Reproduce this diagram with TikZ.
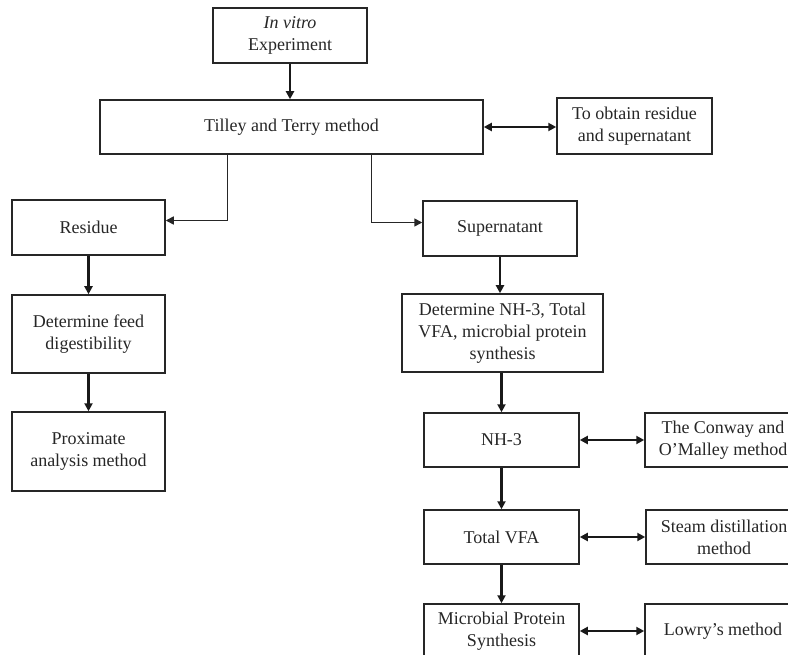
\documentclass[tikz,border=0pt]{standalone}
\usepackage{fontspec}
\setmainfont{Liberation Serif}
\usetikzlibrary{arrows.meta,calc}
\begin{document}
\begin{tikzpicture}[x=1pt,y=1pt,
  box/.style={draw=black!85, line width=1.5pt, align=center, inner sep=2pt,
    font=\fontsize{18}{22}\selectfont, text=black!85},
  arr/.style={line width=2.2pt, draw=black!90, -{Triangle[length=8pt,width=8pt]}},
  elb/.style={line width=1.5pt, draw=black!85, -{Triangle[length=8pt,width=8pt]}},
  dbl/.style={line width=2.2pt, draw=black!90, {Triangle[length=8pt,width=8pt]}-{Triangle[length=8pt,width=8pt]}}]
\useasboundingbox (0,0) rectangle (788,-655);
\node[box, minimum width=154, minimum height=55] (exp) at (290,-35.5) {\textit{In vitro}\\Experiment};
\node[box, minimum width=383, minimum height=54] (tilley) at (291.5,-127) {Tilley and Terry method};
\node[box, minimum width=155, minimum height=56] (obtain) at (634.5,-126) {To obtain residue\\and supernatant};
\node[box, minimum width=153, minimum height=55] (residue) at (88.5,-227.5) {Residue};
\node[box, minimum width=153, minimum height=78] (feed) at (88.5,-334) {Determine feed\\digestibility};
\node[box, minimum width=153, minimum height=79] (prox) at (88.5,-451.5) {Proximate\\analysis method};
\node[box, minimum width=154, minimum height=55] (super) at (500,-228.5) {Supernatant};
\node[box, minimum width=201, minimum height=78] (det) at (502.5,-333) {Determine NH-3, Total\\VFA, microbial protein\\synthesis};
\node[box, minimum width=155, minimum height=54] (nh3) at (501.5,-440) {NH-3};
\node[box, minimum width=156, minimum height=54] (conway) at (723,-440) {The Conway and\\O’Malley method};
\node[box, minimum width=155, minimum height=54] (vfa) at (501.5,-537) {Total VFA};
\node[box, minimum width=156, minimum height=54] (steam) at (724,-537) {Steam distillation\\method};
\node[box, minimum width=155, minimum height=54] (mps) at (501.5,-631) {Microbial Protein\\Synthesis};
\node[box, minimum width=156, minimum height=54] (lowry) at (723,-631) {Lowry’s method};

\draw[arr] (exp.south) -- (exp.south |- tilley.north);
\draw[dbl] (tilley.east) -- (obtain.west |- tilley.east);
\coordinate (tl) at ($(tilley.south west)+(128,0)$);
\coordinate (tr) at ($(tilley.south west)+(272,0)$);
\draw[elb] (tl) |- ($(residue.east)+(0,7)$);
\draw[elb] (tr) |- ($(super.west)+(0,6)$);
\draw[arr] (residue.south) -- (feed.north);
\draw[arr] (feed.south) -- (prox.north);
\draw[arr] (super.south) -- (super.south |- det.north);
\draw[arr] (nh3.north |- det.south) -- (nh3.north);
\draw[arr] (nh3.south) -- (vfa.north);
\draw[arr] (vfa.south) -- (mps.north);
\draw[dbl] (nh3.east) -- (conway.west);
\draw[dbl] (vfa.east) -- (steam.west);
\draw[dbl] (mps.east) -- (lowry.west);
\end{tikzpicture}
\end{document}
